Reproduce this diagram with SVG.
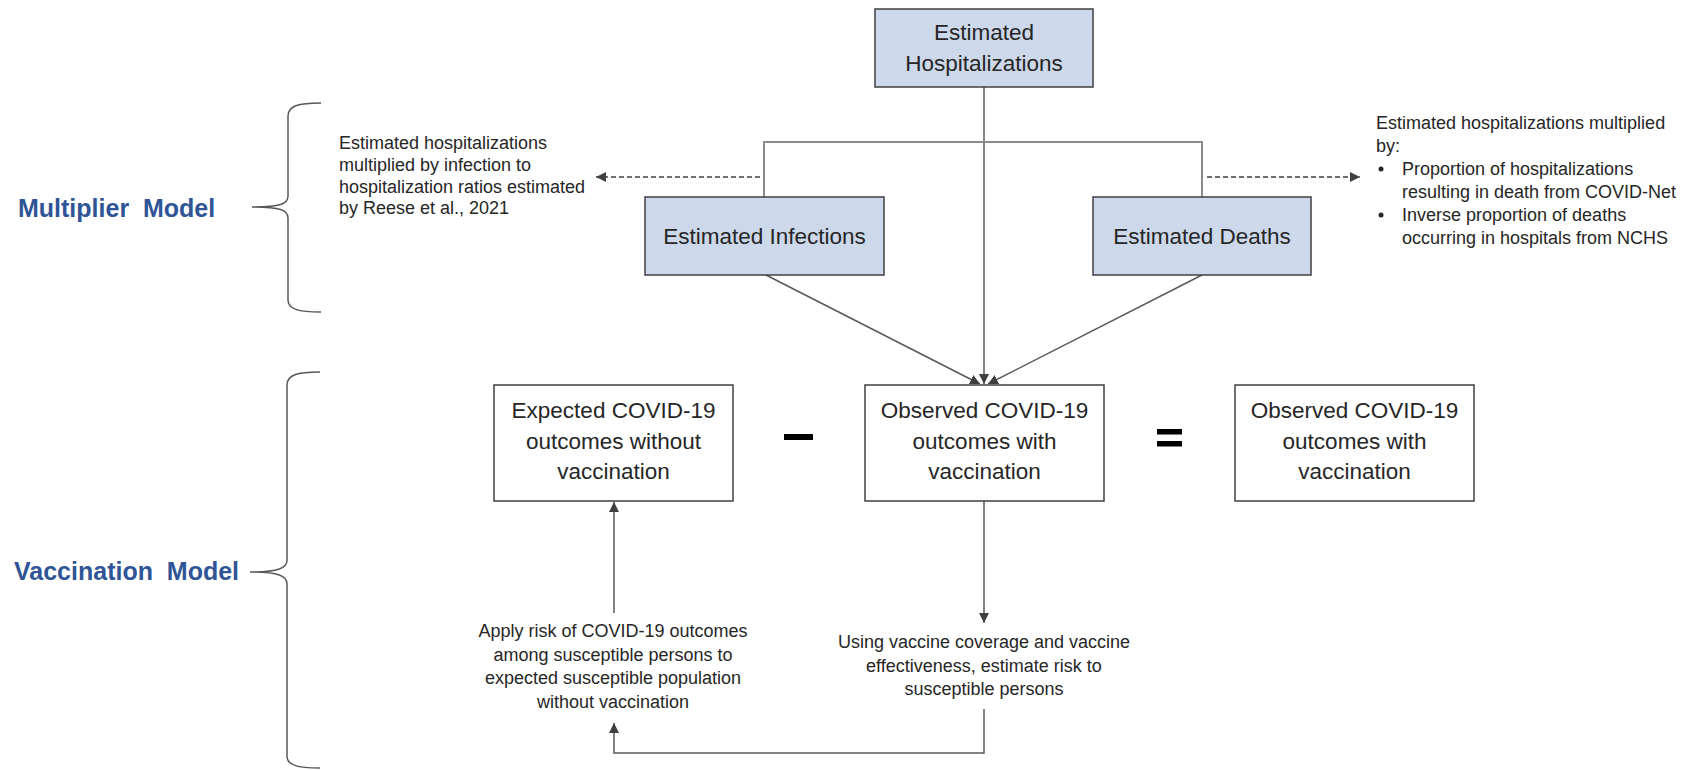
<svg xmlns="http://www.w3.org/2000/svg" width="1696" height="770" viewBox="0 0 1696 770">
<style>
.box{fill:#ffffff;stroke:#404040;stroke-width:1.5}
.blue{fill:#CDD8EA;stroke:#404040;stroke-width:1.5}
.bt{font-family:"Liberation Sans",Arial,sans-serif;font-size:22.5px;fill:#262626;text-anchor:middle}
.an{font-family:"Liberation Sans",Arial,sans-serif;font-size:18px;fill:#262626}
.anc{font-family:"Liberation Sans",Arial,sans-serif;font-size:18px;fill:#262626;text-anchor:middle}
.lbl{font-family:"Liberation Sans",Arial,sans-serif;font-size:25px;font-weight:bold;fill:#2F5597}
.ln{fill:none;stroke:#595959;stroke-width:1.5}
.lg{fill:none;stroke:#8c8c8c;stroke-width:2}
.dash{fill:none;stroke:#404040;stroke-width:1.5;stroke-dasharray:5 3}
.brace{fill:none;stroke:#595959;stroke-width:1.5}
</style>
<defs>
<marker id="ah" viewBox="0 0 10 10" refX="10" refY="5" markerWidth="10" markerHeight="10" markerUnits="userSpaceOnUse" orient="auto">
<path d="M0,0 L10,5 L0,10 z" fill="#404040"/>
</marker>
</defs>
<rect width="1696" height="770" fill="#ffffff"/>

<g id="labels">
<text class="lbl" x="18" y="217" xml:space="preserve">Multiplier  Model</text>
<text class="lbl" x="14" y="580" xml:space="preserve">Vaccination  Model</text>
<path class="brace" d="M321,103 C298,103 288,106 288,116 L288,196 C288,204 280,207 252,207 C280,207 288,210 288,218 L288,300 C288,309 298,312 321,312"/>
<path class="brace" d="M320,372 C297,372 287,375 287,385 L287,560 C287,568 279,572 250,572 C279,572 287,576 287,584 L287,756 C287,765 297,768 320,768"/>
</g>

<g id="connectors">
<line class="ln" x1="984" y1="87" x2="984" y2="384" marker-end="url(#ah)"/>
<line class="ln" x1="766" y1="275" x2="980" y2="384" marker-end="url(#ah)"/>
<line class="ln" x1="1202" y1="275" x2="988" y2="384" marker-end="url(#ah)"/>
<path class="lg" d="M764,197 L764,142 L1202,142 L1202,197"/>
<line class="dash" x1="760" y1="177" x2="596" y2="177" marker-end="url(#ah)"/>
<line class="dash" x1="1207" y1="177" x2="1360" y2="177" marker-end="url(#ah)"/>
<line class="ln" x1="984" y1="501" x2="984" y2="623" marker-end="url(#ah)"/>
<path class="ln" d="M984,709 L984,753 L614,753 L614,723" marker-end="url(#ah)"/>
<line class="ln" x1="614" y1="613" x2="614" y2="502" marker-end="url(#ah)"/>
</g>

<g id="hosp">
<rect class="blue" x="875" y="9" width="218" height="78"/>
<text class="bt" x="984" y="40">Estimated</text>
<text class="bt" x="984" y="71">Hospitalizations</text>
</g>

<g id="infections">
<rect class="blue" x="645" y="197" width="239" height="78"/>
<text class="bt" x="764.5" y="244">Estimated Infections</text>
</g>

<g id="deaths">
<rect class="blue" x="1093" y="197" width="218" height="78"/>
<text class="bt" x="1202" y="244">Estimated Deaths</text>
</g>

<g id="note-left">
<text class="an" x="339" y="149">Estimated hospitalizations</text>
<text class="an" x="339" y="171">multiplied by infection to</text>
<text class="an" x="339" y="193">hospitalization ratios estimated</text>
<text class="an" x="339" y="214">by Reese et al., 2021</text>
</g>

<g id="note-right">
<text class="an" x="1376" y="129">Estimated hospitalizations multiplied</text>
<text class="an" x="1376" y="152">by:</text>
<circle cx="1381" cy="169" r="2.5" fill="#262626"/>
<text class="an" x="1402" y="175">Proportion of hospitalizations</text>
<text class="an" x="1402" y="198">resulting in death from COVID-Net</text>
<circle cx="1381" cy="215" r="2.5" fill="#262626"/>
<text class="an" x="1402" y="221">Inverse proportion of deaths</text>
<text class="an" x="1402" y="244">occurring in hospitals from NCHS</text>
</g>

<g id="expected">
<rect class="box" x="494" y="385" width="239" height="116"/>
<text class="bt" x="613.5" y="418">Expected COVID-19</text>
<text class="bt" x="613.5" y="449">outcomes without</text>
<text class="bt" x="613.5" y="479">vaccination</text>
</g>

<g id="minus">
<rect x="784" y="434" width="29" height="6" fill="#000000"/>
</g>

<g id="observed">
<rect class="box" x="865" y="385" width="239" height="116"/>
<text class="bt" x="984.5" y="418">Observed COVID-19</text>
<text class="bt" x="984.5" y="449">outcomes with</text>
<text class="bt" x="984.5" y="479">vaccination</text>
</g>

<g id="equals">
<rect x="1157" y="429" width="25" height="5.5" fill="#000000"/>
<rect x="1157" y="441" width="25" height="5.5" fill="#000000"/>
</g>

<g id="result">
<rect class="box" x="1235" y="385" width="239" height="116"/>
<text class="bt" x="1354.5" y="418">Observed COVID-19</text>
<text class="bt" x="1354.5" y="449">outcomes with</text>
<text class="bt" x="1354.5" y="479">vaccination</text>
</g>

<g id="note-apply">
<text class="anc" x="613" y="637">Apply risk of COVID-19 outcomes</text>
<text class="anc" x="613" y="660.5">among susceptible persons to</text>
<text class="anc" x="613" y="684">expected susceptible population</text>
<text class="anc" x="613" y="707.5">without vaccination</text>
</g>

<g id="note-using">
<text class="anc" x="984" y="648">Using vaccine coverage and vaccine</text>
<text class="anc" x="984" y="672">effectiveness, estimate risk to</text>
<text class="anc" x="984" y="695">susceptible persons</text>
</g>
</svg>
